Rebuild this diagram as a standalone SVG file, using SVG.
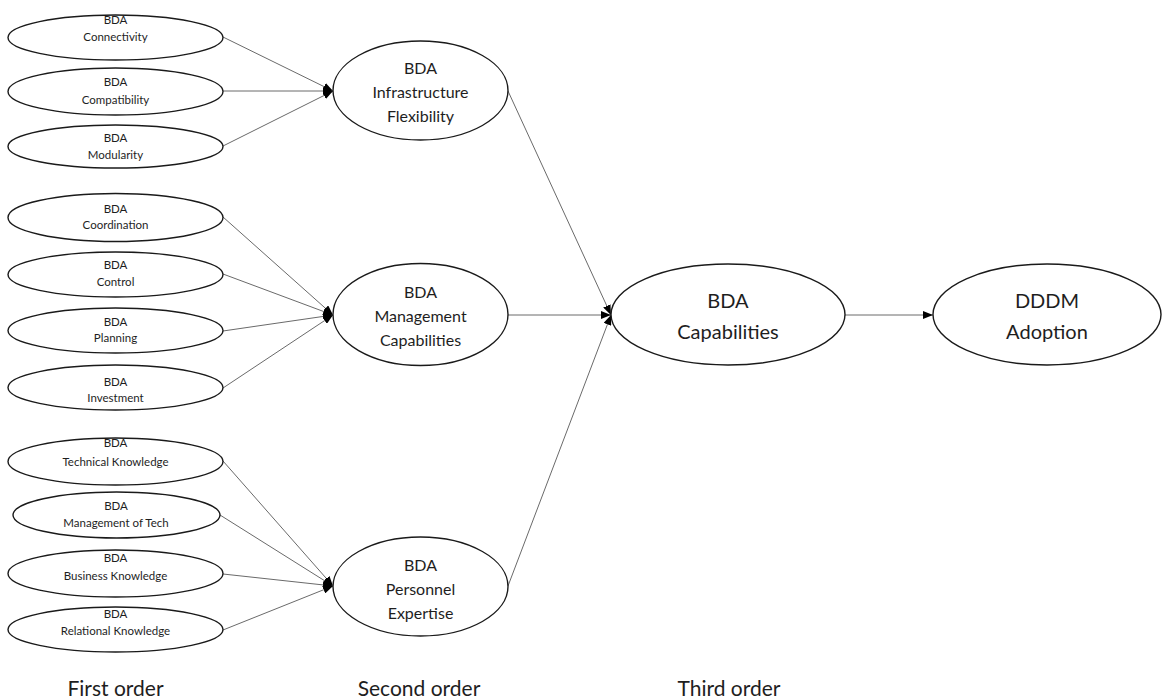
<svg xmlns="http://www.w3.org/2000/svg" width="1163" height="699" viewBox="0 0 1163 699">
  <style>
    .node ellipse { fill: #ffffff; stroke: #1a1a1a; stroke-width: 1.4; }
    text { font-family: Lato, "Liberation Sans", sans-serif; fill: #1e1e1e; text-anchor: middle; }
    .t1 { font-size: 11.5px; }
    .t2 { font-size: 16px; }
    .t3 { font-size: 20px; }
    .lbl { font-size: 21px; }
    .edge { stroke: #6a6a6a; stroke-width: 1; fill: none; marker-end: url(#arrow); }
  </style>
  <defs>
    <marker id="arrow" markerUnits="userSpaceOnUse" markerWidth="10" markerHeight="8" viewBox="0 0 10 8" refX="10" refY="4" orient="auto">
      <path d="M0,0 L10,4 L0,8 Z" fill="#000"/>
    </marker>
  </defs>

  <!-- connectors -->
  <g id="connectors">
    <line class="edge" x1="223" y1="37" x2="333" y2="91"/>
    <line class="edge" x1="223" y1="91" x2="333" y2="91"/>
    <line class="edge" x1="223" y1="146" x2="333" y2="91"/>

    <line class="edge" x1="223" y1="217" x2="333" y2="315"/>
    <line class="edge" x1="223" y1="274" x2="333" y2="315"/>
    <line class="edge" x1="223" y1="331" x2="333" y2="315"/>
    <line class="edge" x1="223" y1="388" x2="333" y2="315"/>

    <line class="edge" x1="223" y1="461" x2="333" y2="586"/>
    <line class="edge" x1="220" y1="515" x2="333" y2="586"/>
    <line class="edge" x1="223" y1="574" x2="333" y2="586"/>
    <line class="edge" x1="223" y1="630" x2="333" y2="586"/>

    <line class="edge" x1="508" y1="91" x2="611" y2="315"/>
    <line class="edge" x1="508" y1="315" x2="611" y2="315"/>
    <line class="edge" x1="508" y1="586" x2="611" y2="315"/>

    <line class="edge" x1="845" y1="315" x2="933" y2="315"/>
  </g>

  <!-- first order -->
  <g id="connectivity" class="node">
    <ellipse cx="115.5" cy="37.5" rx="107.5" ry="22.5"/>
    <text class="t1" x="115.5" y="24">BDA</text>
    <text class="t1" x="115.5" y="41">Connectivity</text>
  </g>
  <g id="compatibility" class="node">
    <ellipse cx="115.5" cy="91.5" rx="107.5" ry="23.5"/>
    <text class="t1" x="115.5" y="86">BDA</text>
    <text class="t1" x="115.5" y="103.5">Compatibility</text>
  </g>
  <g id="modularity" class="node">
    <ellipse cx="115.5" cy="146.5" rx="107.5" ry="21.5"/>
    <text class="t1" x="115.5" y="142">BDA</text>
    <text class="t1" x="115.5" y="158.5">Modularity</text>
  </g>

  <g id="coordination" class="node">
    <ellipse cx="115.5" cy="217.5" rx="107.5" ry="24"/>
    <text class="t1" x="115.5" y="213">BDA</text>
    <text class="t1" x="115.5" y="228.5">Coordination</text>
  </g>
  <g id="control" class="node">
    <ellipse cx="115.5" cy="274.5" rx="107.5" ry="22.5"/>
    <text class="t1" x="115.5" y="269">BDA</text>
    <text class="t1" x="115.5" y="285.5">Control</text>
  </g>
  <g id="planning" class="node">
    <ellipse cx="115.5" cy="330.5" rx="107.5" ry="22.5"/>
    <text class="t1" x="115.5" y="326">BDA</text>
    <text class="t1" x="115.5" y="341.5">Planning</text>
  </g>
  <g id="investment" class="node">
    <ellipse cx="115.5" cy="387.5" rx="107.5" ry="22.5"/>
    <text class="t1" x="115.5" y="386">BDA</text>
    <text class="t1" x="115.5" y="401.5">Investment</text>
  </g>

  <g id="technical-knowledge" class="node">
    <ellipse cx="115.5" cy="461.5" rx="107.5" ry="23.5"/>
    <text class="t1" x="115.5" y="447">BDA</text>
    <text class="t1" x="115.5" y="465.5">Technical Knowledge</text>
  </g>
  <g id="management-of-tech" class="node">
    <ellipse cx="116.5" cy="515" rx="103.5" ry="23"/>
    <text class="t1" x="116" y="510">BDA</text>
    <text class="t1" x="116" y="526.5">Management of Tech</text>
  </g>
  <g id="business-knowledge" class="node">
    <ellipse cx="115.5" cy="573.5" rx="107.5" ry="23.5"/>
    <text class="t1" x="115.5" y="562">BDA</text>
    <text class="t1" x="115.5" y="579.5">Business Knowledge</text>
  </g>
  <g id="relational-knowledge" class="node">
    <ellipse cx="115.5" cy="629.5" rx="107.5" ry="22.5"/>
    <text class="t1" x="115.5" y="618">BDA</text>
    <text class="t1" x="115.5" y="634.5">Relational Knowledge</text>
  </g>

  <!-- second order -->
  <g id="infrastructure-flexibility" class="node">
    <ellipse cx="420.5" cy="90.5" rx="87.5" ry="49.5"/>
    <text class="t2" x="420.5" y="74">BDA</text>
    <text class="t2" x="420.5" y="98">Infrastructure</text>
    <text class="t2" x="420.5" y="122">Flexibility</text>
  </g>
  <g id="management-capabilities" class="node">
    <ellipse cx="420.5" cy="314.5" rx="87.5" ry="51"/>
    <text class="t2" x="420.5" y="298">BDA</text>
    <text class="t2" x="420.5" y="322">Management</text>
    <text class="t2" x="420.5" y="346">Capabilities</text>
  </g>
  <g id="personnel-expertise" class="node">
    <ellipse cx="420.5" cy="586.5" rx="87.5" ry="49.5"/>
    <text class="t2" x="420.5" y="571">BDA</text>
    <text class="t2" x="420.5" y="595">Personnel</text>
    <text class="t2" x="420.5" y="619">Expertise</text>
  </g>

  <!-- third order -->
  <g id="bda-capabilities" class="node">
    <ellipse cx="728" cy="314.5" rx="117" ry="50.5"/>
    <text class="t3" x="728" y="308">BDA</text>
    <text class="t3" x="728" y="339">Capabilities</text>
  </g>
  <g id="dddm-adoption" class="node">
    <ellipse cx="1047" cy="314.5" rx="114" ry="50.5"/>
    <text class="t3" x="1047" y="308">DDDM</text>
    <text class="t3" x="1047" y="339">Adoption</text>
  </g>

  <!-- column captions -->
  <g id="captions">
    <text class="lbl" x="115.5" y="696">First order</text>
    <text class="lbl" x="419" y="696">Second order</text>
    <text class="lbl" x="729" y="696">Third order</text>
  </g>
</svg>
